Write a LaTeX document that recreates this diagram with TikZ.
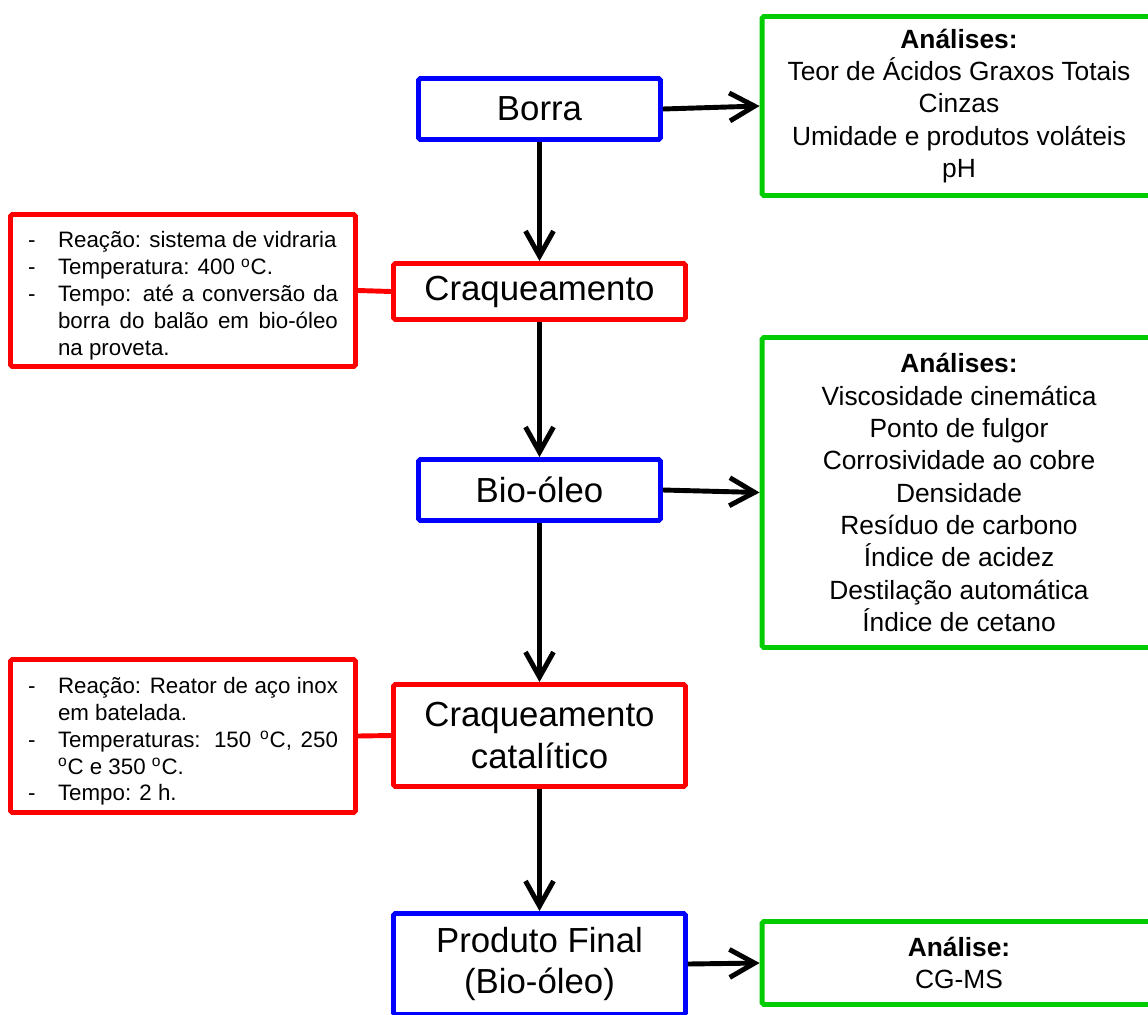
\documentclass[tikz,border=0pt]{standalone}
\usepackage{fontspec}
\setmainfont{Liberation Sans}
\usetikzlibrary{arrows.meta}
\definecolor{azulcaixa}{RGB}{0,0,255}
\definecolor{vermelhocaixa}{RGB}{255,0,0}
\definecolor{verdecaixa}{RGB}{0,204,0}
\newcommand{\traco}{\par\noindent\hangindent=0.6cm\hangafter=1\makebox[0.6cm][l]{-}}
\newcommand{\grau}{\textsuperscript{o}C}
\begin{document}
\begin{tikzpicture}[x=0.02cm,y=-0.02cm,
    caixa/.style={draw,line width=2.8pt,rounded corners=1pt,fill=white,inner sep=0pt},
    etapa/.style={caixa,align=center,font=\fontsize{19.8}{23.8}\selectfont},
    azul/.style={etapa,draw=azulcaixa},
    vermelho/.style={etapa,draw=vermelhocaixa,minimum width=5.84cm},
    analise/.style={caixa,draw=verdecaixa,align=center,minimum width=7.88cm,
        font=\fontsize{15}{18.4}\selectfont},
    info/.style={caixa,draw=vermelhocaixa,minimum width=6.9cm,text width=6.2cm,
        align=justify,font=\fontsize{12.7}{15.3}\selectfont},
    seta/.style={line width=2.8pt,-{Straight Barb[length=0.5cm,width=0.56cm]}},
    liga/.style={line width=2.8pt,draw=vermelhocaixa}]
    \useasboundingbox (0,0) rectangle (1148,1014);

    % etapas do processo
    \node [azul,minimum width=4.84cm,minimum height=1.22cm] (borra) at (539.5,109) {Borra};
    \node [vermelho,minimum height=1.12cm] (craq) at (539.5,291.5) {Craqueamento};
    \node [azul,minimum width=4.84cm,minimum height=1.22cm] (bio) at (539.5,490) {Bio-óleo};
    \node [vermelho,minimum height=2.04cm] (craqcat) at (539.5,735.5) {Craqueamento\\catalítico};
    \node [azul,minimum width=5.84cm,minimum height=2.02cm] (produto) at (539.5,964) {Produto Final\\(Bio-óleo)};

    % condicoes
    \node [info,minimum height=3.04cm] (cond1) at (183,290.5) {%
        \traco Reação: sistema de vidraria
        \traco Temperatura: 400 \grau.
        \traco Tempo: até a conversão da\linebreak borra do balão em bio-óleo\linebreak na proveta.\par};
    \node [info,minimum height=3.06cm] (cond2) at (183,736) {%
        \traco Reação: Reator de aço inox\linebreak em batelada.
        \traco Temperaturas: 150 \grau, 250\linebreak \grau{} e 350 \grau.
        \traco Tempo: 2 h.\par};

    % analises
    \node [analise,minimum height=3.58cm] (anal1) at (959,106)
        {\textbf{Análises:}\\Teor de Ácidos Graxos Totais\\Cinzas\\Umidade e produtos voláteis\\pH};
    \node [analise,minimum height=6.2cm] (anal2) at (959,492.5)
        {\textbf{Análises:}\\Viscosidade cinemática\\Ponto de fulgor\\Corrosividade ao cobre\\Densidade\\Resíduo de carbono\\Índice de acidez\\Destilação automática\\Índice de cetano};
    \node [analise,minimum height=1.66cm] (anal3) at (959,963)
        {\textbf{Análise:}\\CG-MS};

    \draw [seta] (borra) -- (craq);
    \draw [seta] (craq) -- (bio);
    \draw [seta] (bio) -- (craqcat);
    \draw [seta] (craqcat) -- (produto);
    \draw [seta] (borra.east) -- (anal1.west);
    \draw [seta] (bio.east) -- (anal2.west);
    \draw [seta] (produto.east) -- (anal3.west);
    \draw [liga] (cond1.east) -- (craq.west);
    \draw [liga] (cond2.east) -- (craqcat.west);
\end{tikzpicture}
\end{document}
